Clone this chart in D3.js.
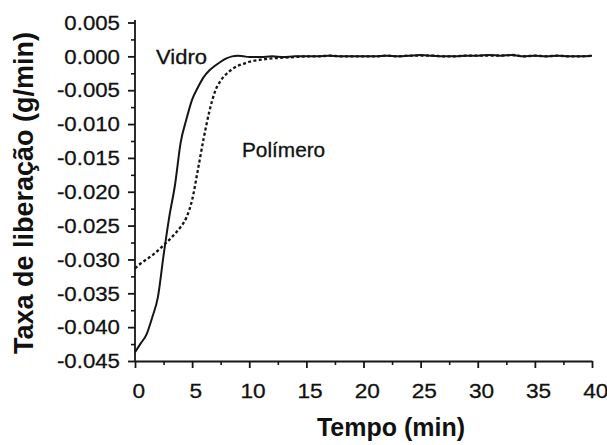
<!DOCTYPE html>
<html>
<head>
<meta charset="utf-8">
<script src="https://cdn.jsdelivr.net/npm/d3@7"></script>
<style>
  html, body { margin: 0; padding: 0; background: #fff; }
  svg { display: block; }
  text { font-family: "Liberation Sans", Arial, Helvetica, sans-serif; fill: #111; }
</style>
</head>
<body>
<script>
// ---- data ----
const timeVidro = [0,0.5,1,1.5,2,2.5,3,3.5,4,4.5,5,5.5,6,6.5,7,7.5,8,8.5,9,9.5,10,11,12,13,14,15,16,17,18,19,20,21,22,23,24,25,26,27,28,29,30,31,32,33,34,35,36,37,38,39,40];
const rateVidro = [-0.0437,-0.0424,-0.0411,-0.0386,-0.0356,-0.0294,-0.0237,-0.0190,-0.0127,-0.0093,-0.0064,-0.0046,-0.0031,-0.0021,-0.0014,-0.0008,-0.0003,0.0000,0.0001,0.0000,-0.0001,-0.0001,0.0000,-0.0001,0.0000,0.0000,0.0000,0.0001,0.0000,0.0000,0.0000,0.0000,0.0001,0.0000,0.0001,0.0002,0.0001,0.0000,0.0000,0.0001,0.0001,0.0002,0.0001,0.0002,0.0000,0.0001,0.0000,0.0001,0.0000,0.0000,0.0001];

const timePolimero = [0,0.5,1,1.5,2,2.5,3,3.5,4,4.5,5,5.5,6,6.5,7,7.5,8,8.5,9,9.5,10,11,12,13,14,15,16,17,18,19,20,21,22,23,24,25,26,27,28,29,30,31,32,33,34,35,36,37,38,39,40];
const ratePolimero = [-0.0313,-0.0306,-0.0300,-0.0294,-0.0287,-0.0279,-0.0271,-0.0262,-0.0252,-0.0238,-0.0212,-0.0168,-0.0122,-0.0082,-0.0052,-0.0036,-0.0026,-0.0019,-0.0014,-0.0011,-0.0008,-0.0005,-0.0003,-0.0002,-0.0001,0.0000,0.0000,0.0001,0.0000,0.0000,0.0000,0.0000,0.0001,0.0000,0.0001,0.0001,0.0001,0.0000,0.0000,0.0001,0.0001,0.0001,0.0001,0.0002,0.0000,0.0001,0.0000,0.0001,0.0000,0.0000,0.0001];

const xTickValues = [0,5,10,15,20,25,30,35,40];
const xTickLabels = ["0","5","10","15","20","25","30","35","40"];
const yTickValues = [0.005,0,-0.005,-0.010,-0.015,-0.020,-0.025,-0.030,-0.035,-0.040,-0.045];
const yTickLabels = ["0.005","0.000","-0.005","-0.010","-0.015","-0.020","-0.025","-0.030","-0.035","-0.040","-0.045"];

const seriesNames = ["Vidro", "Polímero"];
const xTitle = "Tempo (min)";
const yTitle = "Taxa de liberação (g/min)";

// ---- layout ----
const W = 607, H = 445;
const svg = d3.select("body").append("svg").attr("width", W).attr("height", H);

const x = d3.scaleLinear().domain([0, 40]).range([135, 592]);
const y = d3.scaleLinear().domain([-0.045, 0.005]).range([361, 22.5]);

const ink = "#151515";

// minor ticks
const xMinor = d3.range(0, 40.01, 2.5).filter(v => v % 5 !== 0);
const yMinor = d3.range(-0.0425, 0.005, 0.005);

svg.append("g").attr("transform", "translate(0,361)")
  .call(d3.axisBottom(x).tickValues(xMinor).tickSize(4).tickSizeOuter(0).tickFormat(""))
  .call(g => g.select(".domain").remove())
  .call(g => g.selectAll("line").attr("stroke", ink).attr("stroke-width", 1.6));

svg.append("g").attr("transform", "translate(135,0)")
  .call(d3.axisLeft(y).tickValues(yMinor).tickSize(4).tickSizeOuter(0).tickFormat(""))
  .call(g => g.select(".domain").remove())
  .call(g => g.selectAll("line").attr("stroke", ink).attr("stroke-width", 1.6));

// major x axis
const gx = svg.append("g").attr("transform", "translate(0,361)")
  .call(d3.axisBottom(x).tickValues(xTickValues).tickSize(7).tickSizeOuter(0)
    .tickPadding(15).tickFormat((d, i) => xTickLabels[i]));
gx.select(".domain").attr("stroke", ink).attr("stroke-width", 1.8);
gx.selectAll("line").attr("stroke", ink).attr("stroke-width", 1.8);
gx.selectAll("text")
  .attr("font-size", 21).attr("fill", "#111")
  .attr("stroke", "#111").attr("stroke-width", 0.3)
  .attr("font-family", "'Liberation Sans', Arial, sans-serif")
  .attr("dx", 3)
  .attr("transform", "scale(1.08,1)");

// major y axis
const gy = svg.append("g").attr("transform", "translate(135,0)")
  .call(d3.axisLeft(y).tickValues(yTickValues).tickSize(7).tickSizeOuter(0)
    .tickPadding(8).tickFormat((d, i) => yTickLabels[i]));
gy.select(".domain").attr("stroke", ink).attr("stroke-width", 1.8).attr("d", "M0,20V361");
gy.selectAll("line").attr("stroke", ink).attr("stroke-width", 1.8);
gy.selectAll("text")
  .attr("font-size", 21).attr("fill", "#111")
  .attr("stroke", "#111").attr("stroke-width", 0.3)
  .attr("font-family", "'Liberation Sans', Arial, sans-serif")
  .attr("transform", "translate(-15,0) scale(1.06,1) translate(15,0)");

// series
const line = d3.line().x(d => x(d[0])).y(d => y(d[1])).curve(d3.curveMonotoneX);
const vidro = timeVidro.map((t, i) => [t, rateVidro[i]]);
const poli = timePolimero.map((t, i) => [t, ratePolimero[i]]);

svg.append("path").datum(poli).attr("d", line)
  .attr("fill", "none").attr("stroke", ink).attr("stroke-width", 2.3)
  .attr("stroke-dasharray", "3,2.4");
svg.append("path").datum(vidro).attr("d", line)
  .attr("fill", "none").attr("stroke", ink).attr("stroke-width", 2);

// series labels
svg.append("text").attr("transform", "translate(156,64) scale(1.1,1)")
  .attr("font-size", 20).attr("stroke", "#111").attr("stroke-width", 0.3).text(seriesNames[0]);
svg.append("text").attr("transform", "translate(242,157) scale(1.04,1)")
  .attr("font-size", 20).attr("stroke", "#111").attr("stroke-width", 0.3).text(seriesNames[1]);

// axis titles
svg.append("text").attr("x", 391).attr("y", 436).attr("text-anchor", "middle")
  .attr("font-size", 25).attr("font-weight", "bold").text(xTitle);
svg.append("text").attr("transform", "translate(33,193) rotate(-90)")
  .attr("text-anchor", "middle").attr("font-size", 27).attr("font-weight", "bold").text(yTitle);
</script>
</body>
</html>
